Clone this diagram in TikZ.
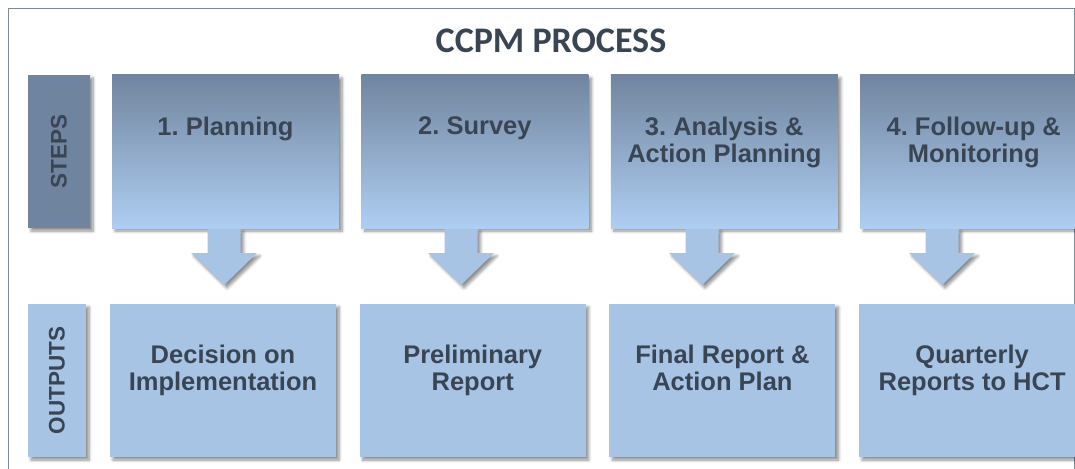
\documentclass[tikz,border=0pt]{standalone}
\usepackage{fontspec}
\setmainfont{Liberation Sans}
\newfontfamily\titlefont{Carlito}
\usetikzlibrary{positioning,shadows.blur}
\frenchspacing

\definecolor{steptop}{HTML}{71859E}
\definecolor{stepbottom}{HTML}{AECEF2}
\definecolor{outfill}{HTML}{A7C4E5}
\definecolor{sidedark}{HTML}{6F859F}
\definecolor{textgray}{HTML}{3A4554}
\definecolor{framegray}{HTML}{7F8A94}

\tikzset{box shadow/.style={blur shadow={shadow xshift=3pt,shadow yshift=-3pt,
      shadow blur radius=3pt,shadow blur steps=6,shadow opacity=45}}, }
\tikzset{main box/.style={rectangle,inner sep=0pt,box shadow}, }
\tikzset{step box/.style={main box,minimum width=227pt,minimum height=153pt,
    top color=steptop,bottom color=stepbottom}, }
\tikzset{out box/.style={main box,minimum width=226pt,minimum height=153pt,
    fill=outfill}, }
\tikzset{side box/.style={main box,minimum height=153pt}, }
\tikzset{box text/.style={anchor=north,align=center,inner sep=0pt,text=textgray,
    font=\bfseries\fontsize{25.5}{27}\selectfont}, }
\tikzset{side text/.style={rotate=90,inner sep=0pt,text=textgray,
    font=\bfseries\fontsize{22.5}{24}\selectfont}, }
\tikzset{block arrow/.style={fill=outfill,box shadow}, }

\begin{document}
\begin{tikzpicture}[x=1pt,y=-1pt]
  \useasboundingbox (0,0) rectangle (1075,468);
  \clip (0,0) rectangle (1075,468);
  % outer frame
  \draw[framegray,line width=1.2pt] (8.5,8.5) rectangle (1074.5,490);
  \node[text=textgray,font=\titlefont\bfseries\fontsize{36}{40}\selectfont,
    anchor=base] (title) at (551,53) {CCPM PROCESS};
%
  % row of steps
  \node[side box,minimum width=62pt,fill=sidedark] (steps) at (59,151.5) {};
  \node[side text] (stepslbl) at (steps) {STEPS};
  \node[step box] (s1) at (225.5,151.5) {};
  \node[step box,right=22pt of s1] (s2) {};
  \node[step box,right=22pt of s2] (s3) {};
  \node[step box,right=22pt of s3] (s4) {};
%
  % row of outputs
  \node[side box,minimum width=58pt,fill=outfill] (outputs) at (57,380.5) {};
  \node[side text] (outputslbl) at (outputs) {OUTPUTS};
  \node[out box] (o1) at (223,380.5) {};
  \node[out box,right=23.3pt of o1] (o2) {};
  \node[out box,right=23.3pt of o2] (o3) {};
  \node[out box,right=23.3pt of o3] (o4) {};
%
  % texts, hung from the top of each box
  \node[box text] (t1) at ([yshift=-42pt]s1.north) {1. Planning};
  \node[box text] (t2) at ([yshift=-42pt]s2.north) {2. Survey};
  \node[box text] (t3) at ([yshift=-42pt]s3.north) {3. Analysis \&\\Action Planning};
  \node[box text] (t4) at ([yshift=-42pt]s4.north) {4. Follow-up \&\\Monitoring};
  \node[box text] (u1) at ([yshift=-41pt]o1.north) {Decision on\\Implementation};
  \node[box text] (u2) at ([yshift=-41pt]o2.north) {Preliminary\\Report};
  \node[box text] (u3) at ([yshift=-41pt]o3.north) {Final Report \&\\Action Plan};
  \node[box text] (u4) at ([yshift=-41pt]o4.north) {Quarterly\\Reports to HCT};
%
  % block arrows from steps to outputs
  \foreach \x in {224,461,702,942}
    \path[block arrow] (\x-16.5,229) -- (\x+16.5,229) -- (\x+16.5,253) -- (\x+33,253)
      -- (\x,285) -- (\x-33,253) -- (\x-16.5,253) -- cycle;
\end{tikzpicture}
\end{document}
